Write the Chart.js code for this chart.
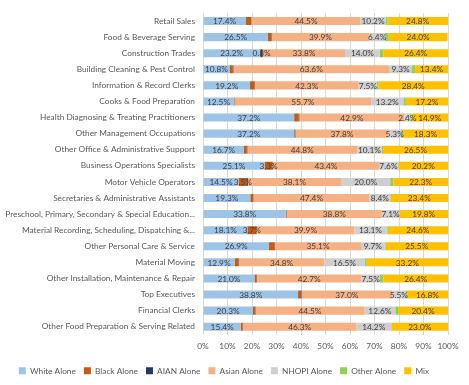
<!DOCTYPE html>
<html>
<head>
<meta charset="utf-8">
<script src="https://cdn.jsdelivr.net/npm/chart.js@4.4.1/dist/chart.umd.min.js"></script>
<style>
  html, body { margin: 0; padding: 0; background: #fff; }
  #wrap { width: 469px; height: 385px; position: relative; }
</style>
</head>
<body>
<div id="wrap"><canvas id="occChart"></canvas></div>
<script>
const categories = [
  "Retail Sales",
  "Food & Beverage Serving",
  "Construction Trades",
  "Building Cleaning & Pest Control",
  "Information & Record Clerks",
  "Cooks & Food Preparation",
  "Health Diagnosing & Treating Practitioners",
  "Other Management Occupations",
  "Other Office & Administrative Support",
  "Business Operations Specialists",
  "Motor Vehicle Operators",
  "Secretaries & Administrative Assistants",
  "Preschool, Primary, Secondary & Special Education...",
  "Material Recording, Scheduling, Dispatching &...",
  "Other Personal Care & Service",
  "Material Moving",
  "Other Installation, Maintenance & Repair",
  "Top Executives",
  "Financial Clerks",
  "Other Food Preparation & Serving Related"
]

const whiteAlone = [17.4, 26.5, 23.2, 10.8, 19.2, 12.5, 37.2, 37.2, 16.7, 25.1, 14.5, 19.3, 33.8, 18.1, 26.9, 12.9, 21.0, 38.8, 20.3, 15.4]
const blackAlone = [2.3, 1.3, 0.3, 1.4, 1.9, 0.3, 1.9, 0.5, 1.2, 3.3, 3.5, 1.2, 0.3, 3.7, 2.3, 1.6, 0.8, 1.2, 0.9, 0.8]
const aianAlone = [0.1, 0.2, 0.8, 0.2, 0.1, 0.1, 0.2, 0.1, 0.2, 0.1, 0.3, 0.1, 0.1, 0.1, 0.2, 0.2, 0.2, 0.2, 0.2, 0.1]
const asianAlone = [44.5, 39.9, 33.8, 63.6, 42.3, 55.7, 42.9, 37.8, 44.8, 43.4, 38.1, 47.4, 38.8, 39.9, 35.1, 34.8, 42.7, 37.0, 44.5, 46.3]
const nhopiAlone = [10.2, 6.4, 14.0, 9.3, 7.5, 13.2, 2.4, 5.3, 10.1, 7.6, 20.0, 8.4, 7.1, 13.1, 9.7, 16.5, 7.5, 5.5, 12.6, 14.2]
const otherAlone = [0.7, 1.5, 1.5, 1.3, 0.6, 1.0, 0.5, 0.8, 0.5, 0.3, 1.3, 0.2, 0.1, 0.5, 0.3, 0.8, 1.4, 0.5, 1.1, 0.2]
const mixRace = [24.8, 24.0, 26.4, 13.4, 28.4, 17.2, 14.9, 18.3, 26.5, 20.2, 22.3, 23.4, 19.8, 24.6, 25.5, 33.2, 26.4, 16.8, 20.4, 23.0]

const xTicks = [0, 10, 20, 30, 40, 50, 60, 70, 80, 90, 100]

const seriesConfig = [
  { label: "White Alone", data: whiteAlone, color: "#9dc3e6" },
  { label: "Black Alone", data: blackAlone, color: "#c55a11" },
  { label: "AIAN Alone", data: aianAlone, color: "#203864" },
  { label: "Asian Alone", data: asianAlone, color: "#f4b183" },
  { label: "NHOPI Alone", data: nhopiAlone, color: "#d0cece" },
  { label: "Other Alone", data: otherAlone, color: "#92d050" },
  { label: "Mix", data: mixRace, color: "#ffc000" }
]

const FONT = "Lato"
const SIZE = 8.3
const TEXT = "#595959"

// values big enough get a label, AIAN gets one when it is not tiny
function showLabel(dsIndex, v) {
  if (dsIndex === 2) return v >= 0.5
  return v >= 2.4
}

const barLabels = {
  id: "barLabels",
  afterDatasetsDraw(chart) {
    const ctx = chart.ctx
    ctx.save()
    ctx.font = SIZE + "px " + FONT
    ctx.fillStyle = "#404040"
    ctx.textAlign = "center"
    ctx.textBaseline = "middle"
    chart.data.datasets.forEach((ds, i) => {
      const meta = chart.getDatasetMeta(i)
      meta.data.forEach((bar, j) => {
        const v = ds.data[j]
        if (!showLabel(i, v)) return
        ctx.fillText(v.toFixed(1) + "%", (bar.x + bar.base) / 2, bar.y + 0.5)
      })
    })
    ctx.restore()
  }
}

const datasets = seriesConfig.map((c) => ({
  label: c.label,
  data: c.data,
  backgroundColor: c.color,
  borderWidth: 0,
  barPercentage: 0.5,
  categoryPercentage: 1
}))

new Chart(document.getElementById("occChart"), {
  type: "bar",
  data: { labels: categories, datasets },
  plugins: [barLabels],
  options: {
    indexAxis: "y",
    responsive: true,
    maintainAspectRatio: false,
    animation: false,
    layout: { padding: { top: 10, right: 21, bottom: 0, left: 0 } },
    plugins: {
      tooltip: { enabled: false },
      legend: {
        position: "bottom",
        labels: {
          boxWidth: 7,
          boxHeight: 7,
          padding: 8,
          color: TEXT,
          font: { family: FONT, size: SIZE }
        }
      }
    },
    scales: {
      x: {
        stacked: true,
        min: 0,
        max: 100,
        afterBuildTicks: (axis) => { axis.ticks = xTicks.map((v) => ({ value: v })) },
        grid: { color: "#d9d9d9", drawTicks: false },
        border: { display: false },
        ticks: {
          padding: 7,
          autoSkip: false,
          maxRotation: 0,
          minRotation: 0,
          color: TEXT,
          font: { family: FONT, size: SIZE },
          callback: (v) => v + "%"
        }
      },
      y: {
        stacked: true,
        grid: { display: false, drawTicks: false },
        border: { display: false },
        afterFit: (axis) => { axis.width = 203 },
        ticks: {
          padding: 8,
          autoSkip: false,
          color: TEXT,
          font: { family: FONT, size: SIZE }
        }
      }
    }
  }
})
</script>
</body>
</html>
